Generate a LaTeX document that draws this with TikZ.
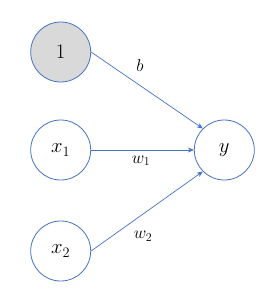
\documentclass[tikz,border=0pt]{standalone}
\usetikzlibrary{arrows.meta}
\definecolor{edgeblue}{RGB}{68,114,196}
\definecolor{fillgray}{RGB}{217,217,217}
\begin{document}
\begin{tikzpicture}[x=1bp,y=-1bp,
  neuron/.style={circle,draw=edgeblue,line width=0.8pt,minimum size=60bp,inner sep=0pt,font=\huge},
  conn/.style={draw=edgeblue,line width=0.7pt,-{Stealth[length=6bp,width=5bp]}},
  wlabel/.style={font=\LARGE}]
\useasboundingbox (0,0) rectangle (271,297);
\node[neuron,fill=fillgray] (one) at (60.7,52) {$1$};
\node[neuron] (x1) at (60.7,150) {$x_1$};
\node[neuron] (x2) at (60.7,251) {$x_2$};
\node[neuron] (y) at (224.3,150) {$y$};
\draw[conn] (one.east) -- (y.north west);
\draw[conn] (x1.east) -- (y.west);
\draw[conn] (x2.east) -- (y.south west);
\node[wlabel] (lb) at (140,66) {$b$};
\node[wlabel] (lw1) at (141,161) {$w_1$};
\node[wlabel] (lw2) at (143,236) {$w_2$};
\end{tikzpicture}
\end{document}
